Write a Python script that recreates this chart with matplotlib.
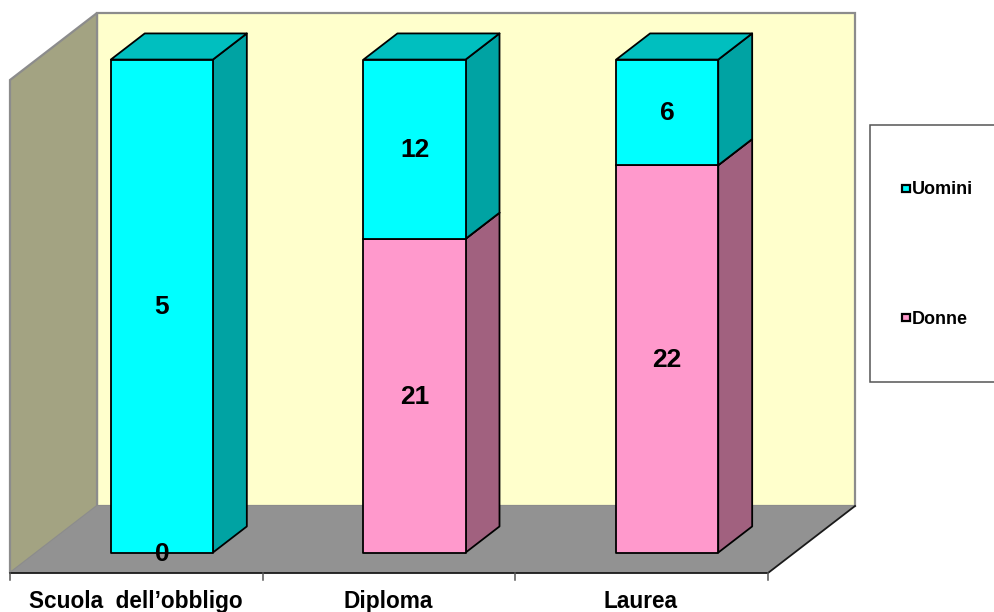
import matplotlib
matplotlib.use("Agg")
import matplotlib.pyplot as plt
from matplotlib.patches import Polygon, Rectangle

plt.rcParams["font.family"] = ["Liberation Sans", "DejaVu Sans"]

# Survey counts by education level
categories = ["Scuola  dell’obbligo", "Diploma", "Laurea"]
donne = [0, 21, 22]
uomini = [5, 12, 6]
series_names = ["Uomini", "Donne"]

# Oblique projection: category position, share of the stack and depth to pixels
ORIGIN_X, ORIGIN_Y = 10.0, 573.0
CAT_W, FULL_H = 252.67, 493.0
DEPTH_X, DEPTH_Y = 87.0, 67.0
BAR_W = 0.404
BAR_CENTRE = 0.496
BAR_D0, BAR_D1 = 0.305, 0.695


def proj(cat, share, depth):
    return (ORIGIN_X + cat * CAT_W + depth * DEPTH_X,
            ORIGIN_Y - share * FULL_H - depth * DEPTH_Y)


fig = plt.figure(figsize=(9.95, 6.12), dpi=100)
ax = fig.add_axes([0, 0, 1, 1])
ax.set_xlim(0, 995)
ax.set_ylim(612, 0)
ax.axis("off")

n = len(categories)

# Walls and floor of the plot box
ax.add_patch(Polygon([proj(0, 0, 1), proj(n, 0, 1), proj(n, 1, 1), proj(0, 1, 1)],
                     fc="#FFFFCC", ec="#8C8C8C", lw=1.6, zorder=1))
ax.add_patch(Polygon([proj(0, 0, 0), proj(0, 0, 1), proj(0, 1, 1), proj(0, 1, 0)],
                     fc="#A3A382", ec="#8C8C8C", lw=1.6, zorder=2))
ax.add_patch(Polygon([proj(0, 0, 0), proj(n, 0, 0), proj(n, 0, 1), proj(0, 0, 1)],
                     fc="#929292", ec="none", zorder=3))
ax.plot(*zip(proj(0, 0, 0), proj(n, 0, 0), proj(n, 0, 1)), color="#1A1A1A", lw=1.3, zorder=4)

# Category axis ticks
for i in range(n + 1):
    x, y = proj(i, 0, 0)
    ax.plot([x, x], [y, y + 7], color="#555555", lw=1.1, zorder=4)


def draw_segment(cat, s0, s1, front, side, top):
    c0, c1 = cat + BAR_CENTRE - BAR_W / 2, cat + BAR_CENTRE + BAR_W / 2
    style = dict(ec="black", lw=1.3, joinstyle="round", zorder=5)
    ax.add_patch(Polygon([proj(c1, s0, BAR_D0), proj(c1, s0, BAR_D1),
                          proj(c1, s1, BAR_D1), proj(c1, s1, BAR_D0)], fc=side, **style))
    ax.add_patch(Polygon([proj(c0, s1, BAR_D0), proj(c1, s1, BAR_D0),
                          proj(c1, s1, BAR_D1), proj(c0, s1, BAR_D1)], fc=top, **style))
    ax.add_patch(Polygon([proj(c0, s0, BAR_D0), proj(c1, s0, BAR_D0),
                          proj(c1, s1, BAR_D0), proj(c0, s1, BAR_D0)], fc=front, **style))


PINK = ("#FF99CC", "#A1617F", "#C97FA3")
CYAN = ("#00FFFF", "#00A3A3", "#00BFBF")

for i, (d, u) in enumerate(zip(donne, uomini)):
    total = d + u
    split = d / total
    if d > 0:
        draw_segment(i, 0, split, *PINK)
    draw_segment(i, split, 1, *CYAN)

    cx, cy = proj(i + BAR_CENTRE, split / 2, BAR_D0)
    ax.text(cx, cy - 1.5, str(d), ha="center", va="center_baseline", fontsize=19,
            fontweight="bold", color="black", zorder=6)
    cx, cy = proj(i + BAR_CENTRE, (split + 1) / 2, BAR_D0)
    ax.text(cx, cy - 1.5, str(u), ha="center", va="center_baseline", fontsize=19,
            fontweight="bold", color="black", zorder=6)

    lx, ly = proj(i + 0.5, 0, 0)
    ax.text(lx - 1, ly + 26, categories[i], ha="center", va="center_baseline",
            fontsize=16.3, fontweight="bold", color="black", zorder=6)

# Legend box runs off the right edge of the figure
ax.add_patch(Rectangle((870, 125), 140, 257, fc="white", ec="#555555", lw=1.1, zorder=1))
for name, colour, y in zip(series_names, [CYAN[0], PINK[0]], [188, 317]):
    ax.add_patch(Rectangle((902, y - 3.5), 7.5, 7.5, fc=colour, ec="black", lw=1.6, zorder=6))
    ax.text(912, y, name, ha="left", va="center_baseline", fontsize=13,
            fontweight="bold", color="black", zorder=6)

fig.savefig("out.png", dpi=100)
